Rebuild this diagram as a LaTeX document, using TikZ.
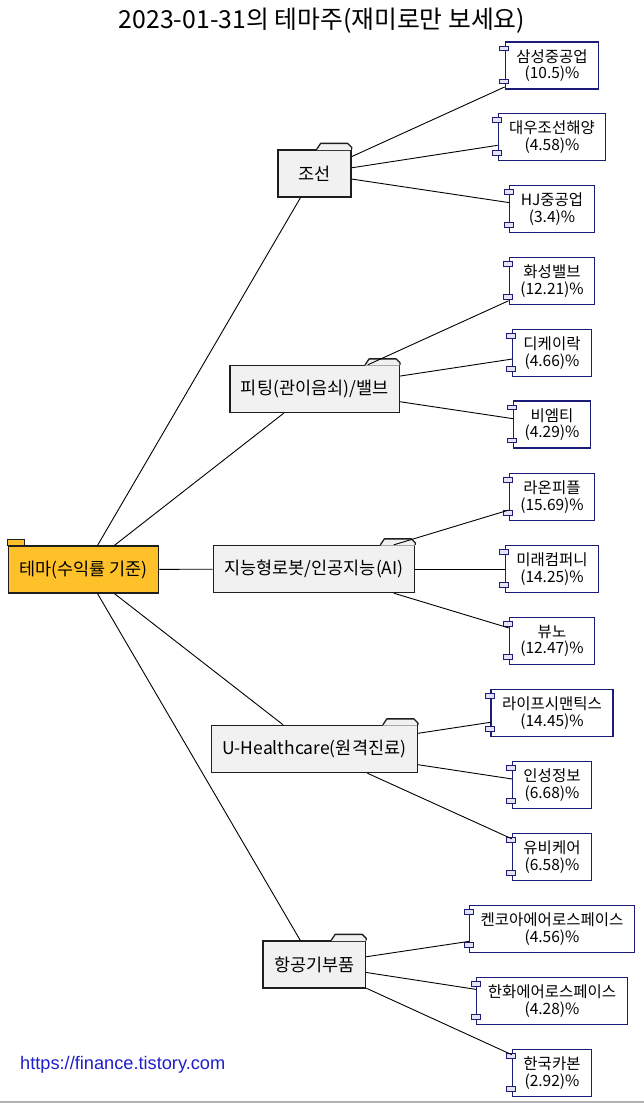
\documentclass[tikz,border=0pt]{standalone}
\usepackage{fontspec}
\setmainfont{Noto Sans CJK KR}
\newfontfamily\urlfont{Liberation Sans}
\usetikzlibrary{calc}
\definecolor{ffill}{HTML}{F1F1F1}
\definecolor{fdraw}{HTML}{1E1E1E}
\definecolor{rootfill}{HTML}{FEC12A}
\definecolor{cdraw}{HTML}{1C1C78}
\definecolor{cbar}{HTML}{E4E4F6}
\definecolor{urlblue}{HTML}{1E1ECD}
\newcommand\cbars[1]{%
  \draw[barbox] ($(#1.north west)+(-5,5)$) rectangle ++(9,4.5);
  \draw[barbox] ($(#1.south west)+(-5,-10.5)$) rectangle ++(9,4.5);}
\newcommand\ftab[1]{%
  \fill[ffill] ($(#1.north east)+(-35,0.8)$) -- ++(4,-6.8) -- ($(#1.north east)+(-4,-6)$) -- ($(#1.north east)+(-0.7,-2)$) -- ($(#1.north east)+(-0.7,0.8)$) -- cycle;
  \draw[fdraw, line width=1.3pt, line join=round] ($(#1.north east)+(-35,0)$) -- ++(4,-6) -- ($(#1.north east)+(-4,-6)$) -- ($(#1.north east)+(0,-2)$) -- (#1.north east);}
\begin{document}
\begin{tikzpicture}[x=1pt,y=-1pt,
  every node/.style={inner sep=0pt},
  folderbox/.style={draw=fdraw, fill=ffill, line width=1.3pt, minimum height=47pt, minimum width=73pt, inner xsep=11pt, font=\fontsize{17.5}{19}\selectfont},
  rootbox/.style={folderbox, fill=rootfill},
  compbox/.style={draw=cdraw, fill=white, line width=1.3pt, minimum height=47pt, inner xsep=11pt, align=center, font=\fontsize{15.5}{16.5}\selectfont},
  barbox/.style={draw=cdraw, fill=cbar, line width=1pt},
  link/.style={draw=black, line width=0.9pt}]
\useasboundingbox (0,0) rectangle (644,1103);

\node[anchor=base, font=\fontsize{24.8}{27}\selectfont] (title) at (322,28) {2023-01-31의 테마주(재미로만 보세요)};

\node[rootbox] (root) at (83.5,569.5) {테마(수익률 기준)};
\node[folderbox] (f1) at (314.5,173.5) {조선};
\node[folderbox] (f2) at (314.7,389) {피팅(관이음쇠)/밸브};
\node[folderbox] (f3) at (314,569) {지능형로봇/인공지능(AI)};
\node[folderbox] (f4) at (314.2,749) {U-Healthcare(원격진료)};
\node[folderbox] (f5) at (314.3,964.5) {항공기부품};

\node[compbox] (c11) at (552,65.5) {삼성중공업\\(10.5)\%};
\node[compbox] (c12) at (552,137) {대우조선해양\\(4.58)\%};
\node[compbox] (c13) at (552,209) {HJ중공업\\(3.4)\%};
\node[compbox] (c21) at (552,281) {화성밸브\\(12.21)\%};
\node[compbox] (c22) at (552,353) {디케이락\\(4.66)\%};
\node[compbox] (c23) at (552,424.5) {비엠티\\(4.29)\%};
\node[compbox] (c31) at (552,497) {라온피플\\(15.69)\%};
\node[compbox] (c32) at (552,569) {미래컴퍼니\\(14.25)\%};
\node[compbox] (c33) at (552,641) {뷰노\\(12.47)\%};
\node[compbox] (c41) at (552,713) {라이프시맨틱스\\(14.45)\%};
\node[compbox] (c42) at (552,785) {인성정보\\(6.68)\%};
\node[compbox] (c43) at (552,857) {유비케어\\(6.58)\%};
\node[compbox] (c51) at (552,929) {켄코아에어로스페이스\\(4.56)\%};
\node[compbox] (c52) at (552,1001) {한화에어로스페이스\\(4.28)\%};
\node[compbox] (c53) at (552,1073) {한국카본\\(2.92)\%};

\draw[fdraw, fill=rootfill, line width=1.3pt] ($(root.north west)+(0,-6)$) rectangle ($(root.north west)+(17,0)$);
\foreach \f in {f1,f2,f3,f4,f5} {\ftab{\f}}
\foreach \c in {c11,c12,c13,c21,c22,c23,c31,c32,c33,c41,c42,c43,c51,c52,c53} {\cbars{\c}}

\foreach \a/\b in {root/f1,root/f2,root/f3,root/f4,root/f5,
  f1/c11,f1/c12,f1/c13,f2/c21,f2/c22,f2/c23,f3/c31,f3/c32,f3/c33,
  f4/c41,f4/c42,f4/c43,f5/c51,f5/c52,f5/c53}
  {\draw[link] (\a) -- (\b);}

\node[anchor=base west, font=\urlfont\fontsize{18.2}{20}\selectfont, text=urlblue] (url) at (20,1069) {https://finance.tistory.com};
\draw[gray!60, line width=1.5pt] (0,1102) -- (644,1102);
\end{tikzpicture}
\end{document}
